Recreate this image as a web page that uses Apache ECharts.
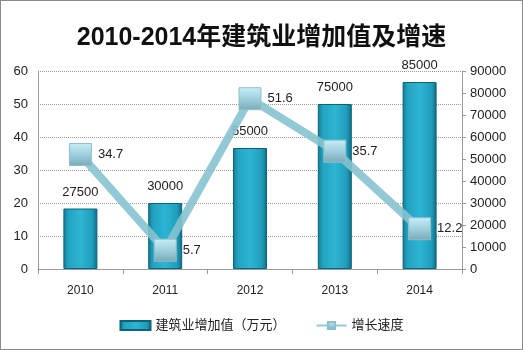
<!DOCTYPE html>
<html><head><meta charset="utf-8">
<script src="https://cdn.jsdelivr.net/npm/echarts@6/dist/echarts.min.js"></script>
<style>
html,body{margin:0;padding:0;background:#fff;}
#c{width:523px;height:350px;box-sizing:border-box;border:1px solid #8a8a8a;}
</style></head>
<body><div id="c"></div>
<script>
const years = ['2010','2011','2012','2013','2014'];
const valueAdded = [27500, 30000, 55000, 75000, 85000];
const growthRate = [34.7, 5.7, 51.6, 35.7, 12.2];
const barName = '建筑业增加值（万元）';
const lineName = '增长速度';
const titleText = '2010-2014年建筑业增加值及增速';

const font = '"Liberation Sans","Noto Sans CJK SC",sans-serif';
const chart = echarts.init(document.getElementById('c'));
const G = echarts.graphic.LinearGradient;
chart.setOption({
  animation:false,
  title:{text:titleText,left:'center',top:20,textStyle:{fontFamily:'"Liberation Sans","Noto Sans CJK SC",sans-serif',fontSize:25,fontWeight:'bold',color:'#111'}},
  grid:{left:37,right:60,top:70,bottom:80,containLabel:false},
  legend:{bottom:12,left:'center',itemGap:30,itemWidth:30,itemHeight:9,
    textStyle:{fontFamily:font,fontSize:13,color:'#222'},
    data:[{name:barName,icon:'rect'},{name:lineName}]},
  xAxis:{type:'category',data:years,boundaryGap:true,
    axisLine:{lineStyle:{color:'#999'}},
    axisTick:{show:true,length:5,lineStyle:{color:'#999'}},
    axisLabel:{fontFamily:font,fontSize:12,color:'#222',margin:16}},
  yAxis:[
    {type:'value',min:0,max:60,interval:10,
     axisLine:{show:true,lineStyle:{color:'#999'}},axisTick:{show:false},
     axisLabel:{fontFamily:font,fontSize:13,color:'#222',margin:10},
     splitLine:{lineStyle:{color:'#9a9a9a',type:'dotted'}}},
    {type:'value',min:0,max:90000,interval:10000,position:'right',
     axisLine:{show:true,lineStyle:{color:'#999'}},axisTick:{show:true,length:4,lineStyle:{color:'#999'}},
     axisLabel:{fontFamily:font,fontSize:13,color:'#222',margin:8,formatter:function(v){return String(v);}},
     splitLine:{show:false}}
  ],
  series:[
    {name:barName,type:'bar',yAxisIndex:1,data:valueAdded,barWidth:34,z:2,
     itemStyle:{color:new G(0,0,1,0,[{offset:0,color:'#137a93'},{offset:0.15,color:'#23a3c2'},{offset:0.5,color:'#2db5d3'},{offset:0.85,color:'#209dbc'},{offset:1,color:'#0f6a80'}]),
       borderColor:'#0d6478',borderWidth:1},
     label:{show:true,position:'top',distance:10,fontFamily:font,fontSize:13,color:'#222'}},
    {name:lineName,type:'line',yAxisIndex:0,data:growthRate,z:5,
     lineStyle:{color:'#86c3d0',width:8,opacity:0.9},
     symbol:'rect',symbolSize:22,
     itemStyle:{color:new G(0,0,0,1,[{offset:0,color:'#c8eef7'},{offset:0.5,color:'#9fd0dd'},{offset:1,color:'#7aa9b6'}]),borderColor:'#8fbfcc',borderWidth:1},
     label:{show:true,position:'right',distance:6,fontFamily:font,fontSize:13,color:'#222'}}
  ]
});
</script></body></html>
